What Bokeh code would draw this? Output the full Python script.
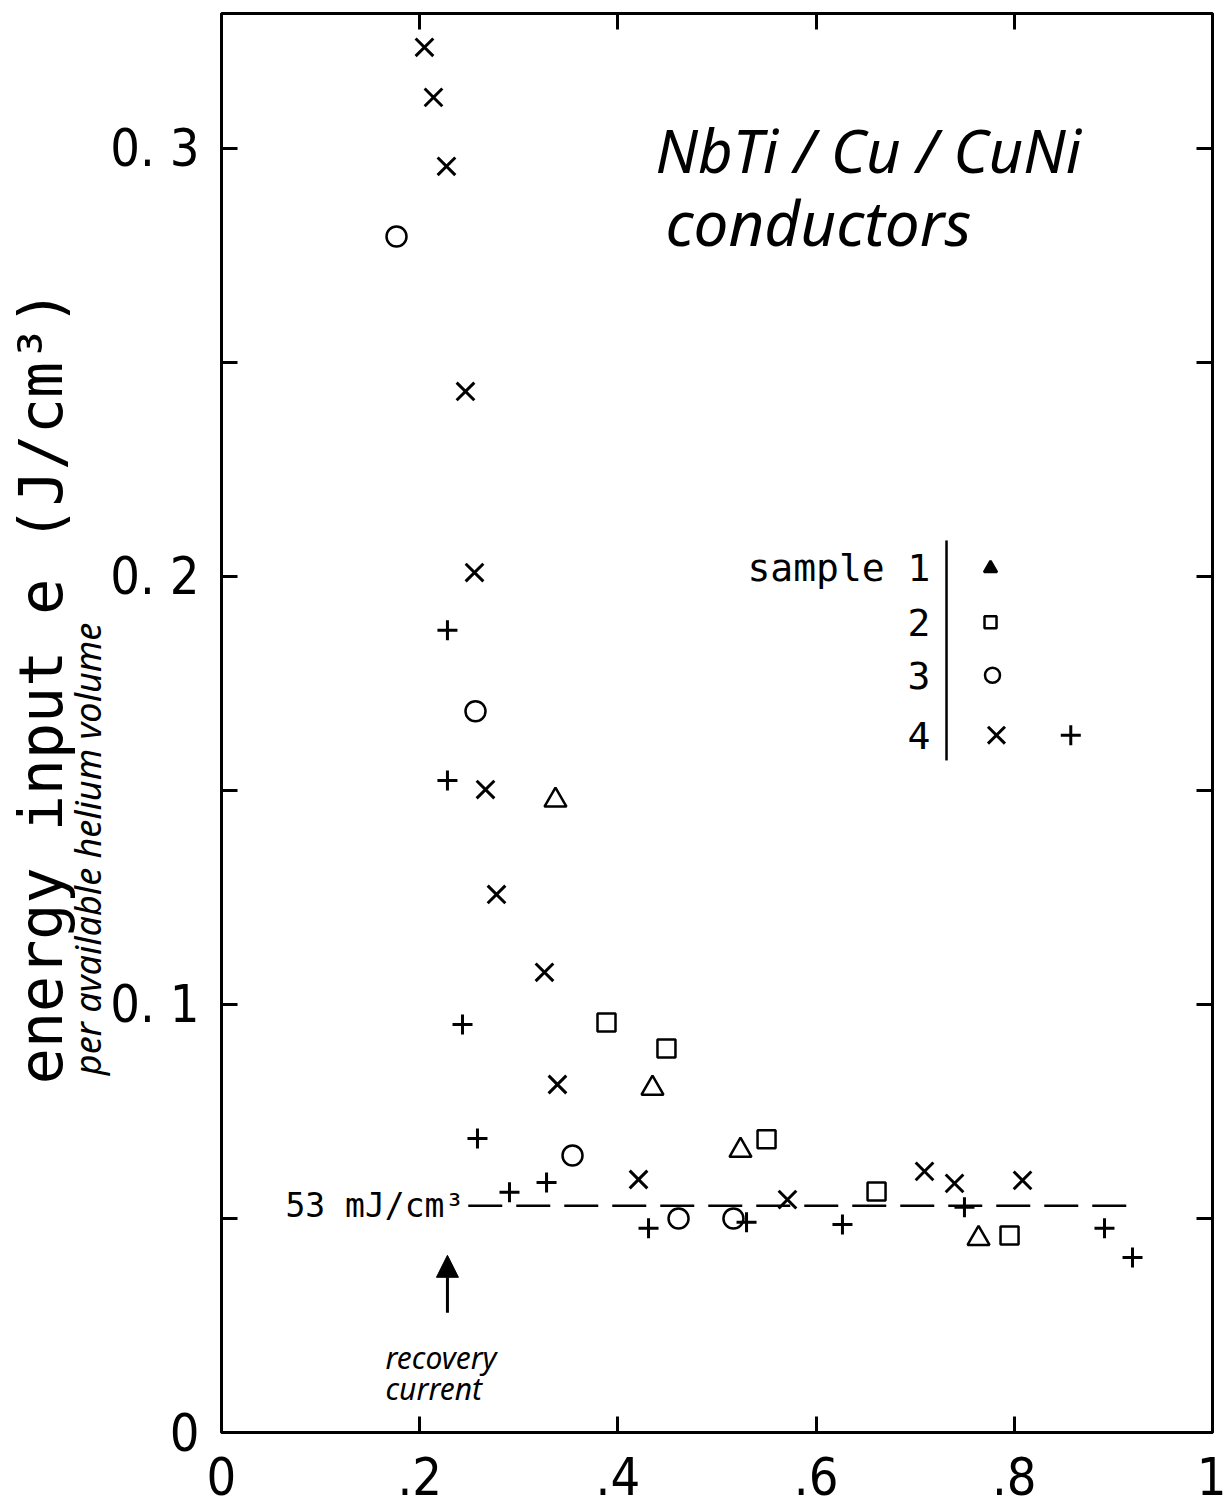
import math
from bokeh.plotting import figure
from bokeh.models import (Range1d, FixedTicker, LinearAxis, Label, Arrow, NormalHead)
from bokeh.embed import file_html
from bokeh.resources import INLINE

# ---- data ----
s4x_x = [0.2048, 0.2139, 0.2270, 0.2462, 0.2553, 0.2664, 0.2775, 0.3259, 0.3390, 0.4208, 0.5711, 0.7094, 0.7397, 0.8083]
s4x_y = [0.3236, 0.3119, 0.2958, 0.2432, 0.2009, 0.1502, 0.1257, 0.1075, 0.0813, 0.0591, 0.0544, 0.0610, 0.0582, 0.0589]

s4p_x = [0.2280, 0.2280, 0.2432, 0.2583, 0.2906, 0.3280, 0.4309, 0.5298, 0.6266, 0.7497, 0.8910, 0.9193]
s4p_y = [0.1874, 0.1523, 0.0953, 0.0687, 0.0561, 0.0584, 0.0477, 0.0491, 0.0486, 0.0526, 0.0477, 0.0409]

s3_x = [0.1766, 0.2563, 0.3542, 0.4612, 0.5166]
s3_y = [0.2794, 0.1685, 0.0647, 0.0500, 0.0500]

s2_x = [0.3885, 0.4490, 0.5500, 0.6610, 0.7952]
s2_y = [0.0958, 0.0897, 0.0685, 0.0563, 0.0460]

s1_x = [0.3370, 0.4349, 0.5237, 0.7639]
s1_y = [0.1477, 0.0804, 0.0659, 0.0453]

ref_level = 0.053          # 53 mJ/cm^3
ref_x = [0.249, 0.918]
recovery_current = 0.228

x_ticks = [0, 0.2, 0.4, 0.6, 0.8, 1.0]
x_tick_labels = ["0", ".2", ".4", ".6", ".8", "1"]
y_ticks = [0, 0.1, 0.2, 0.3]
y_minor = [0.05, 0.15, 0.25]
y_tick_labels = ["0", "0. 1", "0. 2", "0. 3"]

legend_labels = ["sample 1", "2", "3", "4"]

y_title = "energy input  e (J/cm³)"
y_subtitle = "per available helium volume"

# ---- fonts ----
BIG = "'Liberation Sans Narrow', 'DejaVu Sans Condensed', 'DejaVu Sans', sans-serif"
MONO = "'DejaVu Sans Mono', monospace"
HAND = "'Noto Sans', sans-serif"

p = figure(width=1226, height=1506, output_backend="svg", toolbar_location=None,
           x_range=Range1d(0, 1), y_range=Range1d(0, 0.3315),
           x_axis_location=None, y_axis_location=None,
           min_border_left=221, min_border_right=14, min_border_top=13, min_border_bottom=74)
p.grid.visible = False
p.outline_line_color = "black"
p.outline_line_width = 3
p.background_fill_color = "white"
p.border_fill_color = "white"


def style_axis(ax, labels=True):
    ax.axis_line_color = None
    ax.major_tick_in = 16
    ax.major_tick_out = 0
    ax.minor_tick_in = 16
    ax.minor_tick_out = 0
    ax.major_tick_line_width = 3
    ax.minor_tick_line_width = 3
    ax.major_tick_line_color = "black"
    ax.minor_tick_line_color = "black"
    if labels:
        ax.major_label_text_font = BIG
        ax.major_label_text_font_size = "52px"
        ax.major_label_text_color = "black"
    else:
        ax.major_label_text_font_size = "0px"
        ax.major_label_text_color = None


def label_only_axis(text, font, size, style, standoff):
    ax = LinearAxis(ticker=FixedTicker(ticks=[]), axis_label=text)
    ax.axis_line_color = None
    ax.major_tick_in = 0
    ax.major_tick_out = 0
    ax.minor_tick_in = 0
    ax.minor_tick_out = 0
    ax.major_label_text_font_size = "0px"
    ax.major_label_standoff = 0
    ax.axis_label_text_font = font
    ax.axis_label_text_font_size = size
    ax.axis_label_text_font_style = style
    ax.axis_label_text_color = "black"
    ax.axis_label_standoff = standoff
    return ax


xt = FixedTicker(ticks=x_ticks)
yt = FixedTicker(ticks=y_ticks, minor_ticks=y_minor)

bx = LinearAxis(ticker=xt, major_label_overrides=dict(zip(x_ticks, x_tick_labels)))
style_axis(bx)
bx.major_label_standoff = 24
p.add_layout(bx, "below")

ly = LinearAxis(ticker=yt, major_label_overrides=dict(zip(y_ticks, y_tick_labels)))
style_axis(ly)
ly.major_label_standoff = 22
ly.major_label_orientation = "horizontal"
p.add_layout(ly, "left")

# second line of the y title (handwritten), then the main y title further out
p.add_layout(label_only_axis(y_subtitle + "\u2003" * 7, HAND, "36px", "italic", -4), "left")
p.add_layout(label_only_axis("\u00a0" * 3 + y_title, MONO, "60px", "normal", -16), "left")

tx = LinearAxis(ticker=FixedTicker(ticks=x_ticks))
style_axis(tx, labels=False)
p.add_layout(tx, "above")
ry = LinearAxis(ticker=FixedTicker(ticks=y_ticks, minor_ticks=y_minor))
style_axis(ry, labels=False)
p.add_layout(ry, "right")

# ---- reference level line ----
p.line(ref_x, [ref_level, ref_level], line_color="black", line_width=2.5, line_dash="34 14")
p.add_layout(Label(x=ref_x[0] - 0.004, y=ref_level, text="53 mJ/cm³", text_font=MONO,
                   text_font_size="33px", text_align="right", text_baseline="middle",
                   text_color="black"))

# ---- data markers ----
p.scatter(s4x_x, s4x_y, marker="x", size=25, line_color="black", line_width=3)
p.scatter(s4p_x, s4p_y, marker="cross", size=20, line_color="black", line_width=3)
p.scatter(s3_x, s3_y, marker="circle", size=20, line_color="black", line_width=2.5, fill_color=None)
p.scatter(s2_x, s2_y, marker="square", size=18, line_color="black", line_width=2.5, fill_color=None)
p.scatter(s1_x, s1_y, marker="triangle", size=22, line_color="black", line_width=2.5, fill_color=None)

# ---- legend block ----
leg_text_x = 0.7154
leg_rows = [0.2019, 0.1893, 0.1769, 0.1629]
for lab, yy in zip(legend_labels, leg_rows):
    p.add_layout(Label(x=leg_text_x, y=yy, text=lab, text_font=MONO, text_font_size="38px",
                       text_align="right", text_baseline="middle", text_color="black"))
p.line([0.7316, 0.7316], [0.2084, 0.1570], line_color="black", line_width=2.5)
p.scatter([0.776], [leg_rows[0]], marker="triangle", size=13, line_color="black",
          line_width=2.5, fill_color="black")
p.scatter([0.776], [leg_rows[1]], marker="square", size=12, line_color="black",
          line_width=2.5, fill_color=None)
p.scatter([0.778], [leg_rows[2]], marker="circle", size=15, line_color="black",
          line_width=2.5, fill_color=None)
p.scatter([0.782], [leg_rows[3]], marker="x", size=24, line_color="black", line_width=3)
p.scatter([0.857], [leg_rows[3]], marker="cross", size=20, line_color="black", line_width=3)

# ---- annotations ----
p.add_layout(Label(x=0.438, y=0.2995, text="NbTi / Cu / CuNi", text_font=HAND,
                   text_font_style="italic", text_font_size="60px", text_align="left",
                   text_baseline="middle", text_color="black"))
p.add_layout(Label(x=0.448, y=0.2827, text="conductors", text_font=HAND,
                   text_font_style="italic", text_font_size="62px", text_align="left",
                   text_baseline="middle", text_color="black"))

p.add_layout(Arrow(x_start=recovery_current, y_start=0.028, x_end=recovery_current, y_end=0.0414,
                   line_color="black", line_width=3,
                   end=NormalHead(size=22, fill_color="black", line_color="black")))
p.add_layout(Label(x=0.1655, y=0.0175, text="recovery", text_font=HAND,
                   text_font_style="italic", text_font_size="30px", text_align="left",
                   text_baseline="middle", text_color="black"))
p.add_layout(Label(x=0.1655, y=0.0103, text="current", text_font=HAND,
                   text_font_style="italic", text_font_size="30px", text_align="left",
                   text_baseline="middle", text_color="black"))

open("out.html", "w").write(file_html(p, INLINE))
